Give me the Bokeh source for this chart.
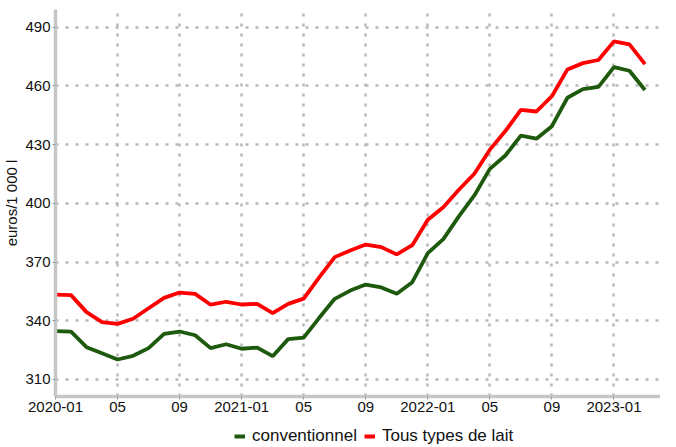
from bokeh.plotting import figure
from bokeh.models import FixedTicker, Range1d, Legend, LegendItem, ColumnDataSource
from bokeh.layouts import column
from bokeh.embed import file_html
from bokeh.resources import INLINE

months = ["2020-01", "2020-02", "2020-03", "2020-04", "2020-05", "2020-06", "2020-07", "2020-08",
          "2020-09", "2020-10", "2020-11", "2020-12", "2021-01", "2021-02", "2021-03", "2021-04",
          "2021-05", "2021-06", "2021-07", "2021-08", "2021-09", "2021-10", "2021-11", "2021-12",
          "2022-01", "2022-02", "2022-03", "2022-04", "2022-05", "2022-06", "2022-07", "2022-08",
          "2022-09", "2022-10", "2022-11", "2022-12", "2023-01", "2023-02", "2023-03"]

conventionnel = [334.7, 334.4, 326.5, 323.4, 320.2, 322.1, 326.0, 333.3, 334.5, 332.6, 326.0, 328.0,
                 325.7, 326.3, 321.9, 330.6, 331.4, 341.5, 351.2, 355.4, 358.5, 357.0, 353.8, 359.7,
                 374.5, 381.7, 393.3, 404.0, 417.6, 424.4, 434.6, 433.0, 439.4, 453.9, 458.3, 459.5,
                 469.6, 467.7, 457.9]

tous_types = [353.3, 353.1, 344.4, 339.3, 338.4, 341.0, 346.4, 351.7, 354.4, 353.7, 348.2, 349.7,
              348.3, 348.6, 343.9, 348.6, 351.3, 362.2, 372.5, 375.9, 378.9, 377.6, 373.9, 378.6,
              391.6, 398.0, 406.9, 415.1, 427.4, 436.9, 447.7, 446.9, 454.7, 468.4, 471.6, 473.2,
              482.7, 481.2, 471.1]

x_tick_months = ["2020-01", "2020-05", "2020-09", "2021-01", "2021-05", "2021-09",
                 "2022-01", "2022-05", "2022-09", "2023-01"]
x_tick_labels = ["2020-01", "05", "09", "2021-01", "05", "09", "2022-01", "05", "09", "2023-01"]
y_ticks = [310, 340, 370, 400, 430, 460, 490]

series_names = ["conventionnel", "Tous types de lait"]
series_colors = ["#1e5a0e", "#ff0000"]

FONT = "Liberation Sans"

idx = list(range(len(months)))
src = ColumnDataSource(dict(x=idx, conv=conventionnel, tous=tous_types))

p = figure(width=660, height=420, output_backend="svg", toolbar_location=None,
           x_range=Range1d(0, 39.0), y_range=Range1d(301.3, 499.0))
p.min_border_left = 50
p.min_border_right = 0
p.min_border_top = 9
p.min_border_bottom = 24
p.outline_line_color = None
p.background_fill_color = "white"
p.border_fill_color = "white"

p.line("x", "conv", source=src, line_color=series_colors[0], line_width=3.8)
p.line("x", "tous", source=src, line_color=series_colors[1], line_width=3.8)

tick_pos = [months.index(m) for m in x_tick_months]
p.xaxis.ticker = FixedTicker(ticks=tick_pos)
p.xaxis.major_label_overrides = {pos: lab for pos, lab in zip(tick_pos, x_tick_labels)}
p.yaxis.ticker = FixedTicker(ticks=y_ticks)
p.xaxis.minor_tick_line_color = None
p.yaxis.minor_tick_line_color = None

for ax in (p.xaxis[0], p.yaxis[0]):
    ax.axis_line_color = "#c6c6c6"
    ax.axis_line_width = 3.5
    ax.major_tick_line_color = "#999999"
    ax.major_tick_line_width = 1
    ax.major_tick_out = 3
    ax.major_tick_in = 0
    ax.major_label_text_font = FONT
    ax.major_label_text_font_size = "15px"
    ax.major_label_text_color = "#111111"
    ax.major_label_standoff = 2

p.yaxis.axis_label = "euros/1 000 l"
p.yaxis.axis_label_text_font = FONT
p.yaxis.axis_label_text_font_size = "15px"
p.yaxis.axis_label_text_font_style = "normal"
p.yaxis.axis_label_text_color = "#111111"
p.yaxis.axis_label_standoff = 2

for g in (p.xgrid[0], p.ygrid[0]):
    g.grid_line_color = "#b8b8b8"
    g.grid_line_width = 2.5
    g.grid_line_dash = "3 7"

# legend strip below the chart (its lines fall outside this strip's ranges, only the keys show)
lg = figure(width=660, height=26, output_backend="svg", toolbar_location=None,
            x_range=Range1d(0, 1), y_range=Range1d(0, 1), min_border=0)
lg.axis.visible = False
lg.grid.visible = False
lg.outline_line_color = None
lg.background_fill_color = "white"
lg.border_fill_color = "white"
k1 = lg.line("x", "conv", source=src, line_color=series_colors[0], line_width=4)
k2 = lg.line("x", "tous", source=src, line_color=series_colors[1], line_width=4)

legend = Legend(items=[LegendItem(label=series_names[0], renderers=[k1]),
                       LegendItem(label=series_names[1], renderers=[k2])],
                orientation="horizontal", location=(179, 0))
legend.label_text_font = FONT
legend.label_text_font_size = "17px"
legend.label_text_color = "#111111"
legend.glyph_width = 11
legend.glyph_height = 16
legend.label_height = 18
legend.label_standoff = 7
legend.spacing = 7
legend.padding = 0
legend.margin = 0
legend.border_line_color = None
legend.background_fill_alpha = 0
lg.add_layout(legend, "center")

layout = column(p, lg, spacing=0)
open("out.html", "w").write(file_html(layout, INLINE))
